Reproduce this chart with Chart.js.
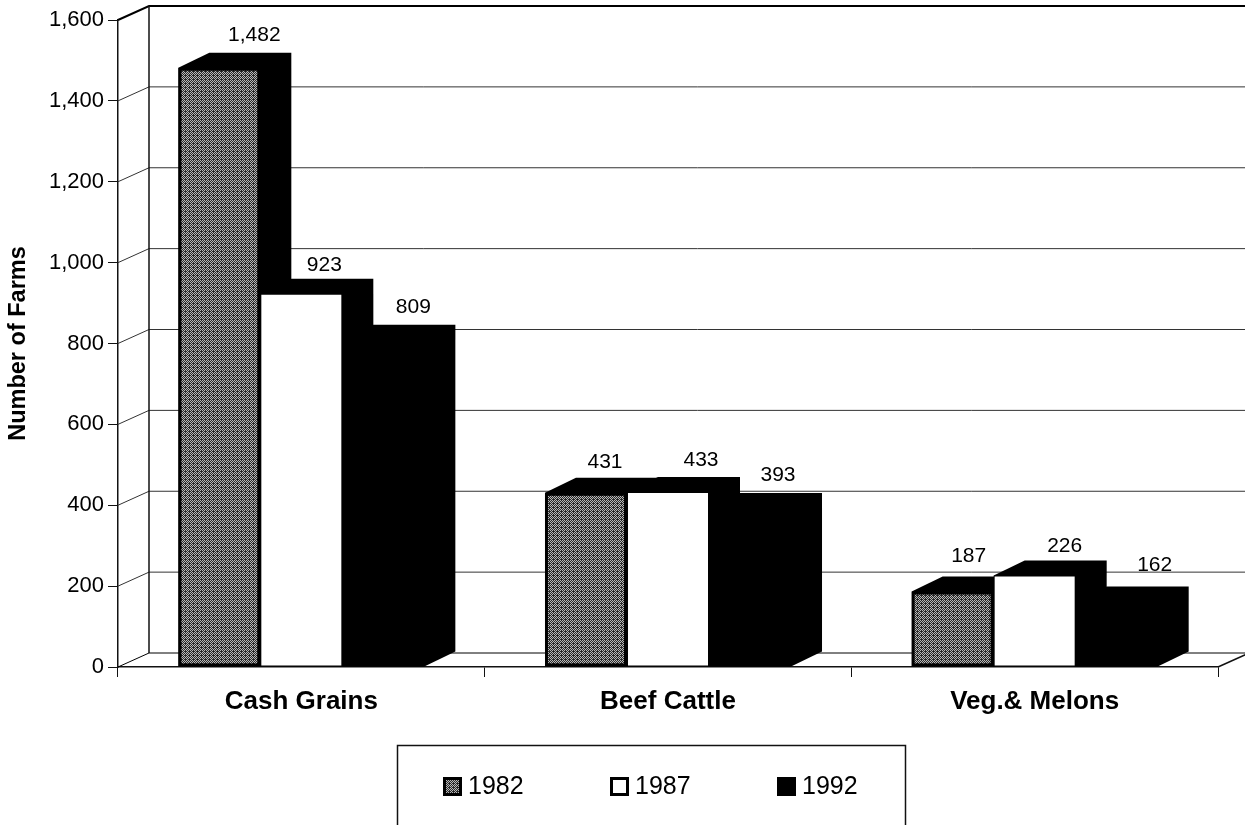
<!DOCTYPE html>
<html>
<head>
<meta charset="utf-8">
<style>html,body{margin:0;padding:0;background:#fff}canvas{display:block}</style>
<script src="https://cdn.jsdelivr.net/npm/chart.js@4"></script>
</head>
<body>
<canvas id="c" width="1245" height="825"></canvas>
<script>
const categories = ["Cash Grains", "Beef Cattle", "Veg.& Melons"];
const years = ["1982", "1987", "1992"];
const values1982 = [1482, 431, 187];
const values1987 = [923, 433, 226];
const values1992 = [809, 393, 162];
const yTicks = [0, 200, 400, 600, 800, 1000, 1200, 1400, 1600];
const axisTitle = "Number of Farms";

const FONT = '"Liberation Sans", Arial, sans-serif';
const DX = 31, DY = -15, WALL_DY = -14;
// horizontal nudges of the value labels, as placed in the original
const labelShift = [[35, 23, 30], [19, 33, 28], [16, 30, 38]];
const labelRise = [[33, 29, 33], [31, 32, 33], [35, 29, 36]];

function dither() {
  const p = document.createElement('canvas');
  p.width = 4; p.height = 4;
  const g = p.getContext('2d');
  g.fillStyle = '#2a2a2a'; g.fillRect(0, 0, 4, 4);
  g.fillStyle = '#b8b8b8';
  [[0,0],[2,0],[1,1],[3,1],[0,2],[2,2],[3,3]].forEach(a => g.fillRect(a[0], a[1], 1, 1));
  return g.createPattern(p, 'repeat');
}
const grayFill = dither();

const wall3d = {
  id: 'wall3d',
  beforeDatasetsDraw(chart) {
    const ctx = chart.ctx, y = chart.scales.y, a = chart.chartArea;
    ctx.save();
    yTicks.forEach(v => {
      const py = y.getPixelForValue(v);
      ctx.strokeStyle = (v === 1600 || v === 0) ? '#000' : '#333';
      ctx.lineWidth = v === 1600 ? 2 : 1;
      ctx.beginPath();
      ctx.moveTo(a.left, py);
      ctx.lineTo(a.left + DX, py + WALL_DY);
      ctx.lineTo(a.right + DX, py + WALL_DY);
      ctx.stroke();
    });
    ctx.strokeStyle = '#111';
    ctx.lineWidth = 1.5;
    ctx.beginPath();
    ctx.moveTo(a.left + DX, y.getPixelForValue(1600) + WALL_DY);
    ctx.lineTo(a.left + DX, y.getPixelForValue(0) + WALL_DY);
    ctx.stroke();
    ctx.beginPath();
    ctx.moveTo(a.right, y.getPixelForValue(0));
    ctx.lineTo(a.right + DX, y.getPixelForValue(0) + WALL_DY);
    ctx.stroke();
    // depth faces, left to right so nearer neighbours overlap correctly
    ctx.fillStyle = '#000';
    categories.forEach((_, ci) => {
      years.forEach((_, di) => {
        const b = chart.getDatasetMeta(di).data[ci];
        const l = b.x - b.width / 2, r = b.x + b.width / 2;
        ctx.beginPath();
        ctx.moveTo(l, b.y);
        ctx.lineTo(l + DX, b.y + DY);
        ctx.lineTo(r + DX, b.y + DY);
        ctx.lineTo(r + DX, b.base + DY);
        ctx.lineTo(r, b.base);
        ctx.lineTo(l, b.base);
        ctx.closePath();
        ctx.fill();
      });
    });
    ctx.restore();
  },
  afterDatasetsDraw(chart) {
    const ctx = chart.ctx;
    ctx.save();
    ctx.fillStyle = '#000';
    ctx.font = '21px ' + FONT;
    ctx.textAlign = 'center';
    ctx.textBaseline = 'middle';
    chart.data.datasets.forEach((ds, di) => {
      ds.data.forEach((v, ci) => {
        const b = chart.getDatasetMeta(di).data[ci];
        ctx.fillText(v.toLocaleString('en-US'), b.x + labelShift[ci][di], b.y - labelRise[ci][di]);
      });
    });
    // legend box, open at the bottom edge of the picture
    ctx.strokeStyle = '#111';
    ctx.lineWidth = 1.5;
    ctx.beginPath();
    ctx.moveTo(397.5, 825);
    ctx.lineTo(397.5, 745.5);
    ctx.lineTo(905.5, 745.5);
    ctx.lineTo(905.5, 825);
    ctx.stroke();
    ctx.textAlign = 'left';
    ctx.font = '25px ' + FONT;
    chart.data.datasets.forEach((ds, i) => {
      const x = 443 + i * 167, yy = 777;
      ctx.fillStyle = '#000';
      ctx.fillRect(x, yy, 19, 19);
      if (i < 2) {
        ctx.fillStyle = ds.backgroundColor;
        ctx.fillRect(x + 3, yy + 3, 13, 13);
      }
      ctx.fillStyle = '#000';
      ctx.fillText(ds.label, x + 25, yy + 10);
    });
    ctx.restore();
  }
};

new Chart(document.getElementById('c'), {
  type: 'bar',
  data: {
    labels: categories,
    datasets: [
      { label: years[0], data: values1982, backgroundColor: grayFill, borderColor: '#000', borderWidth: 3, borderSkipped: false },
      { label: years[1], data: values1987, backgroundColor: '#fff', borderColor: '#000', borderWidth: 1, borderSkipped: false },
      { label: years[2], data: values1992, backgroundColor: '#000', borderColor: '#000', borderWidth: 0 }
    ]
  },
  options: {
    responsive: false,
    animation: false,
    events: [],
    layout: { padding: { top: 20, right: 27, left: 0, bottom: 0 } },
    plugins: { legend: { display: false }, tooltip: { enabled: false } },
    datasets: { bar: { categoryPercentage: 0.671, barPercentage: 1 } },
    scales: {
      x: {
        afterFit(s) { s.height = 158; },
        grid: { drawOnChartArea: false, tickLength: 10, color: '#111', offset: true },
        border: { color: '#111', width: 1.5 },
        ticks: { color: '#000', padding: 9, maxRotation: 0, font: { family: FONT, size: 26, weight: 'bold' } }
      },
      y: {
        min: 0, max: 1600,
        afterFit(s) { s.width = 118; },
        afterBuildTicks(s) { s.ticks = yTicks.map(v => ({ value: v })); },
        grid: { drawOnChartArea: false, tickLength: 10, color: '#111' },
        border: { color: '#111', width: 1.5 },
        title: { display: true, text: axisTitle, color: '#000', padding: { top: 4, bottom: 0 }, font: { family: FONT, size: 23.5, weight: 'bold' } },
        ticks: { color: '#000', padding: 4, font: { family: FONT, size: 22 },
          callback: v => Number(v).toLocaleString('en-US') }
      }
    }
  },
  plugins: [wall3d]
});
</script>
</body>
</html>
